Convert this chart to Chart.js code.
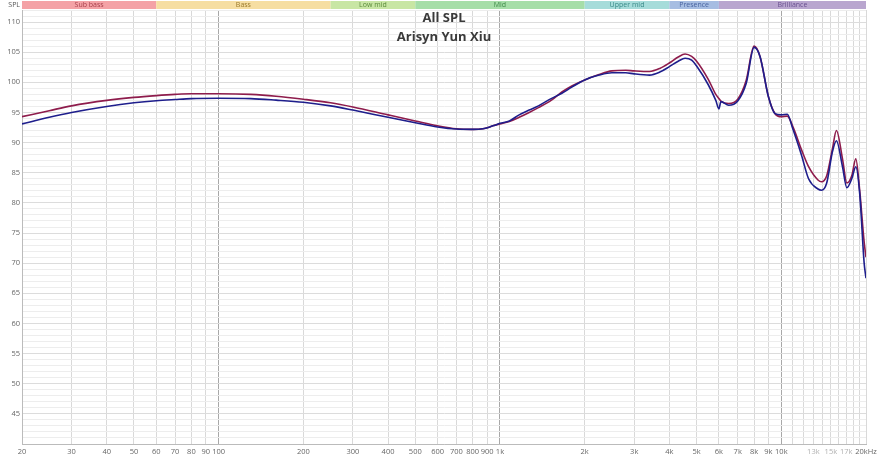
<!DOCTYPE html>
<html><head><meta charset="utf-8">
<script src="https://cdn.jsdelivr.net/npm/chart.js@4/dist/chart.umd.min.js"></script>
<style>html,body{margin:0;padding:0;background:#fff;overflow:hidden}#wrap{width:877px;height:458px;position:relative}</style>
</head><body><div id="wrap"><canvas id="c" width="877" height="458"></canvas></div>
<script>
const freqs   = [20,25,30,40,50,60,70,80,100,130,160,200,250,300,400,500,600,700,800,870,920,960,1000,1080,1170,1270,1370,1520,1660,1800,2000,2250,2500,2800,3000,3400,3700,4000,4300,4550,4800,5000,5500,5850,6000,6100,6500,7000,7500,8000,8400,9000,9500,10000,10500,11000,11800,12500,13500,13900,14500,15200,15700,16500,17100,17800,18400,19000,19700,20000];
const redSPL  = [94.3,95.3,96.1,97.0,97.5,97.8,98.0,98.1,98.1,98.0,97.7,97.2,96.6,95.9,94.6,93.6,92.8,92.3,92.2,92.3,92.6,92.9,93.1,93.5,94.2,95.0,95.8,97.0,98.4,99.4,100.4,101.3,101.9,102.0,101.9,101.8,102.3,103.2,104.2,104.7,104.3,103.5,100.5,98.0,97.3,96.9,96.5,97.2,100.3,106.0,104.3,97.6,94.8,94.3,94.4,92.6,88.8,86.0,83.8,83.5,84.5,89.0,92.0,87.3,83.3,84.5,87.3,82.0,73.5,71.0];
const blueSPL = [93.1,94.2,95.0,96.0,96.6,96.95,97.15,97.3,97.35,97.3,97.05,96.7,96.1,95.4,94.2,93.3,92.6,92.25,92.2,92.3,92.6,92.9,93.2,93.6,94.6,95.4,96.1,97.3,98.2,99.2,100.4,101.2,101.6,101.6,101.4,101.2,101.7,102.6,103.5,104.0,103.7,102.7,99.6,97.0,95.6,96.8,96.2,96.9,99.8,105.8,104.3,97.6,94.8,94.6,94.7,92.2,87.9,84.0,82.3,82.1,83.3,88.5,90.3,86.0,82.5,84.0,86.0,81.5,70.0,67.5];
const xTickValues = [20,30,40,50,60,70,80,90,100,200,300,400,500,600,700,800,900,1000,2000,3000,4000,5000,6000,7000,8000,9000,10000,11000,12000,13000,14000,15000,16000,17000,18000,19000,20000];
const xTickLabels = ['20','30','40','50','60','70','80','90','100','200','300','400','500','600','700','800','900','1k','2k','3k','4k','5k','6k','7k','8k','9k','10k','','','13k','','15k','','17k','','','20kHz'];
const xFaintLabels = ['13k','15k','17k'];
const xMajorLines = [100,1000,10000];
const yLabelValues = [45,50,55,60,65,70,75,80,85,90,95,100,105,110];
const bandNames = ['Sub bass','Bass','Low mid','Mid','Upper mid','Presence','Brilliance'];
const bandEdges = [20,60,250,500,2000,4000,6000,20000];
const bandFill = ['#f4a2a6','#f6dea2','#c8e6a4','#a6dea8','#a6dcda','#a6bde2','#b9a6cf'];
const bandText = ['#a8404c','#9a7a2c','#5a8a3a','#3f8a48','#3a8a88','#4a64a0','#6a5090'];
const titleLines = ['All SPL','Arisyn Yun Xiu'];
const axisName = 'SPL';

const toXY = arr => freqs.map((f,i)=>({x:f,y:arr[i]}));

const overlay = {
  id:'overlay',
  afterDraw(chart){
    const ctx = chart.ctx, xs = chart.scales.x, ca = chart.chartArea;
    ctx.save();
    for(let i=0;i<bandNames.length;i++){
      const x0 = xs.getPixelForValue(bandEdges[i]), x1 = xs.getPixelForValue(bandEdges[i+1]);
      ctx.fillStyle = bandFill[i];
      ctx.fillRect(x0, 1, x1-x0, 8);
      ctx.fillStyle = bandText[i];
      ctx.font = '7px "Open Sans"';
      ctx.textAlign='center'; ctx.textBaseline='middle';
      ctx.fillText(bandNames[i], (x0+x1)/2, 5);
    }
    ctx.fillStyle='#555'; ctx.font='7px "Open Sans"'; ctx.textAlign='right'; ctx.textBaseline='middle';
    ctx.fillText(axisName, ca.left-2, 5);
    ctx.fillStyle='#3a3a3a'; ctx.font='bold 13px "Open Sans"'; ctx.textAlign='center';
    ctx.fillText(titleLines[0], 444, 18);
    ctx.fillText(titleLines[1], 444, 37);
    ctx.restore();
  }
};

new Chart(document.getElementById('c'), {
  type:'line',
  data:{datasets:[
    {label:'blue', data:toXY(blueSPL), borderColor:'#1e1e8c', borderWidth:1.6, pointRadius:0, cubicInterpolationMode:'monotone', fill:false},
    {label:'red', data:toXY(redSPL), borderColor:'#8e1c4c', borderWidth:1.6, pointRadius:0, cubicInterpolationMode:'monotone', fill:false}
  ]},
  options:{
    responsive:false, animation:false, devicePixelRatio:1,
    layout:{padding:{top:10,right:11,left:0,bottom:0}},
    plugins:{legend:{display:false}, tooltip:{enabled:false}, title:{display:false}},
    scales:{
      x:{type:'logarithmic', min:20, max:20000,
        afterBuildTicks(axis){ axis.ticks = xTickValues.map(v=>({value:v})); },
        afterFit(s){ s.height = 14; s.paddingRight = 0; s.paddingLeft = 0; },
        border:{display:true,color:'#bbb'},
        grid:{drawTicks:false, color(ctx){ const v=ctx.tick&&ctx.tick.value; return xMajorLines.includes(v)?'#a8a8a8':'#d9d9d9'; }},
        ticks:{autoSkip:false, maxRotation:0, minRotation:0, padding:3, font:{family:'"Open Sans"', size:7.5},
          color(ctx){ const i = xTickValues.indexOf(ctx.tick.value); return xFaintLabels.includes(xTickLabels[i])?'#b0b0b0':'#666'; },
          callback(v){ const i = xTickValues.indexOf(v); return i>=0?xTickLabels[i]:''; }}
      },
      y:{min:40, max:112,
        afterBuildTicks(axis){ const t=[]; for(let v=40; v<=112; v++) t.push({value:v}); axis.ticks=t; },
        afterFit(s){ s.width = 22; s.paddingTop = 0; s.paddingBottom = 0; },
        border:{display:true,color:'#bbb'},
        grid:{drawTicks:false, color(ctx){ const v=ctx.tick&&ctx.tick.value; return (v%5===0)?'#dcdcdc':'#ededed'; }},
        ticks:{autoSkip:false, padding:2, font:{family:'"Open Sans"', size:7.5}, color:'#666',
          callback(v){ return yLabelValues.includes(v)?String(v):''; }}
      }
    }
  },
  plugins:[overlay]
});
</script></body></html>
